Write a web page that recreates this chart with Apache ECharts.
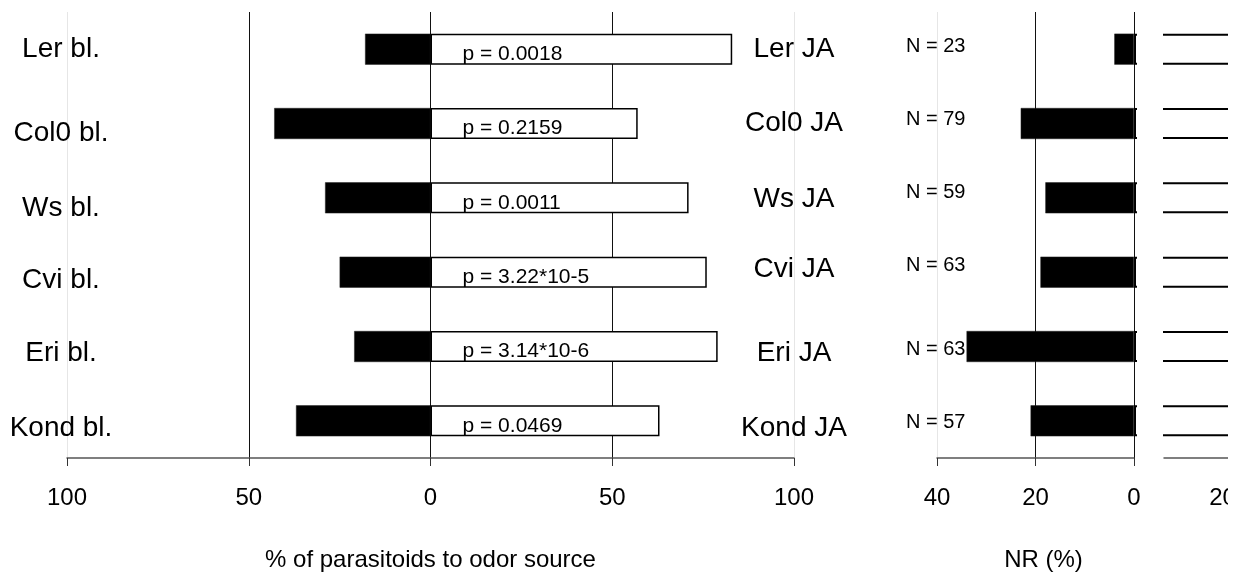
<!DOCTYPE html>
<html><head><meta charset="utf-8">
<script src="https://cdn.jsdelivr.net/npm/echarts@6/dist/echarts.min.js"></script>
<style>html,body{margin:0;padding:0;background:#fff}#c{width:1242px;height:574px}</style>
</head><body><div id="c"></div>
<script>
// ---- data ----
const blankLabels = ['Ler bl.', 'Col0 bl.', 'Ws bl.', 'Cvi bl.', 'Eri bl.', 'Kond bl.'];
const jaLabels = ['Ler JA', 'Col0 JA', 'Ws JA', 'Cvi JA', 'Eri JA', 'Kond JA'];
const pctBlank = [18, 43, 29, 25, 21, 37];
const pctJA = [83, 57, 71, 76, 79, 63];
const pLabels = ['p = 0.0018', 'p = 0.2159', 'p = 0.0011', 'p = 3.22*10-5', 'p = 3.14*10-6', 'p = 0.0469'];
const nLabels = ['N = 23', 'N = 79', 'N = 59', 'N = 63', 'N = 63', 'N = 57'];
const nrPct = [4, 23, 18, 19, 34, 21];
const respPct = [96, 77, 82, 81, 66, 79];
const pctTicks = [-100, -50, 0, 50, 100];
const nrTicks = [0, 20, 40];
const respTicks = [20];

// ---- layout / style ----
const FF = "'Liberation Sans', Arial, sans-serif";
const leftNudge = [0, 10, 10, 8, 7, 7];
const jaNudge = [0, 0, 1, -3, 7, 7];
const nNudge = [-3, -4, -5, -7, 3, 2];
function richFrom(nudges, size) {
  const r = {};
  nudges.forEach((d, i) => {
    r['s' + i] = {fontSize: size, fontFamily: FF, color: '#000',
      padding: d >= 0 ? [2 * d, 0, 0, 0] : [0, 0, -2 * d, 0]};
  });
  return r;
}
const tagFmt = (v, i) => '{s' + i + '|' + v + '}';
const axisLineStyle = {color: '#555', width: 1.5};
const gridTop = 12, gridBottom = 116, barW = 31;

const chart = echarts.init(document.getElementById('c'), null, {renderer: 'canvas'});
chart.setOption({
  animation: false,
  backgroundColor: '#fff',
  textStyle: {fontFamily: FF},
  grid: [
    {left: 67, width: 727, top: gridTop, bottom: gridBottom, outerBoundsMode: 'none', containLabel: false},
    {left: 937, width: 197, top: gridTop, bottom: gridBottom, outerBoundsMode: 'none', containLabel: false},
    {left: 1164, width: 78, top: gridTop, bottom: gridBottom, outerBoundsMode: 'none', containLabel: false}
  ],
  xAxis: [
    {gridIndex: 0, type: 'value', min: -100, max: 100, interval: 50,
      axisLine: {show: true, lineStyle: axisLineStyle},
      axisTick: {show: true, length: 8, lineStyle: {color: '#333', width: 1}},
      axisLabel: {margin: 28, fontSize: 24, color: '#000', fontFamily: FF,
        customValues: pctTicks, formatter: v => String(Math.abs(v))},
      splitLine: {show: true, lineStyle: {color: ['#e6e6e6', '#111', '#111', '#111', '#e6e6e6'], width: 1}},
      name: '% of parasitoids to odor source', nameLocation: 'middle', nameGap: 90,
      nameTextStyle: {fontSize: 24, color: '#000', fontFamily: FF}},
    {gridIndex: 1, type: 'value', min: 0, max: 40, interval: 20, inverse: true,
      axisLine: {show: true, lineStyle: axisLineStyle},
      axisTick: {show: true, length: 8, lineStyle: {color: '#333', width: 1}},
      axisLabel: {margin: 28, fontSize: 24, color: '#000', fontFamily: FF, customValues: nrTicks},
      splitLine: {show: true, lineStyle: {color: ['#111', '#111', '#e6e6e6'], width: 1}},
      name: 'NR (%)', nameLocation: 'middle', nameGap: 90,
      nameTextStyle: {fontSize: 24, color: '#000', fontFamily: FF, padding: [0, 0, 0, 16]}},
    {gridIndex: 1, type: 'value', min: -40, max: 0, show: false},
    {gridIndex: 2, type: 'value', min: 8, max: 24,
      axisLine: {show: true, lineStyle: axisLineStyle},
      axisTick: {show: false},
      axisLabel: {margin: 28, fontSize: 24, color: '#000', fontFamily: FF, customValues: respTicks},
      splitLine: {show: false}}
  ],
  yAxis: [
    {gridIndex: 0, type: 'category', data: blankLabels, inverse: true, position: 'left',
      axisLine: {show: false}, axisTick: {show: false}, splitLine: {show: false},
      axisLabel: {margin: 6, align: 'center', formatter: tagFmt, rich: richFrom(leftNudge, 28)}},
    {gridIndex: 0, type: 'category', data: jaLabels, inverse: true, position: 'right',
      axisLine: {show: false}, axisTick: {show: false}, splitLine: {show: false},
      axisLabel: {margin: 0, align: 'center', formatter: tagFmt, rich: richFrom(jaNudge, 28)}},
    {gridIndex: 1, type: 'category', data: nLabels, inverse: true, position: 'left',
      axisLine: {show: false}, axisTick: {show: false}, splitLine: {show: false},
      axisLabel: {margin: 31, align: 'left', formatter: tagFmt, rich: richFrom(nNudge, 20)}},
    {gridIndex: 2, type: 'category', data: jaLabels, inverse: true, show: false}
  ],
  series: [
    {type: 'bar', xAxisIndex: 0, yAxisIndex: 0, barWidth: barW, barGap: '-100%',
      data: pctBlank.map(v => -v),
      itemStyle: {color: '#000', borderColor: '#222', borderWidth: 0.5}},
    {type: 'bar', xAxisIndex: 0, yAxisIndex: 0, barWidth: barW, barGap: '-100%',
      data: pctJA,
      itemStyle: {color: '#fff', borderColor: '#000', borderWidth: 1.5},
      label: {show: true, position: 'insideLeft', distance: 32, offset: [0, 5],
        fontSize: 21, color: '#000', fontFamily: FF,
        formatter: p => pLabels[p.dataIndex]}},
    {type: 'bar', xAxisIndex: 2, yAxisIndex: 2, barWidth: barW, barGap: '-100%', clip: false, z: 1,
      data: respPct,
      itemStyle: {color: '#fff', borderColor: '#000', borderWidth: 2}},
    {type: 'bar', xAxisIndex: 1, yAxisIndex: 2, barWidth: barW, barGap: '-100%', z: 3,
      data: nrPct,
      itemStyle: {color: '#000', borderColor: '#222', borderWidth: 0.5}}
  ],
  graphic: [
    {type: 'rect', shape: {x: 1137, y: 0, width: 26, height: 470}, style: {fill: '#fff'}, z: 100},
    {type: 'rect', shape: {x: 1228, y: 0, width: 20, height: 574}, style: {fill: '#fff'}, z: 100}
  ]
});
</script></body></html>
